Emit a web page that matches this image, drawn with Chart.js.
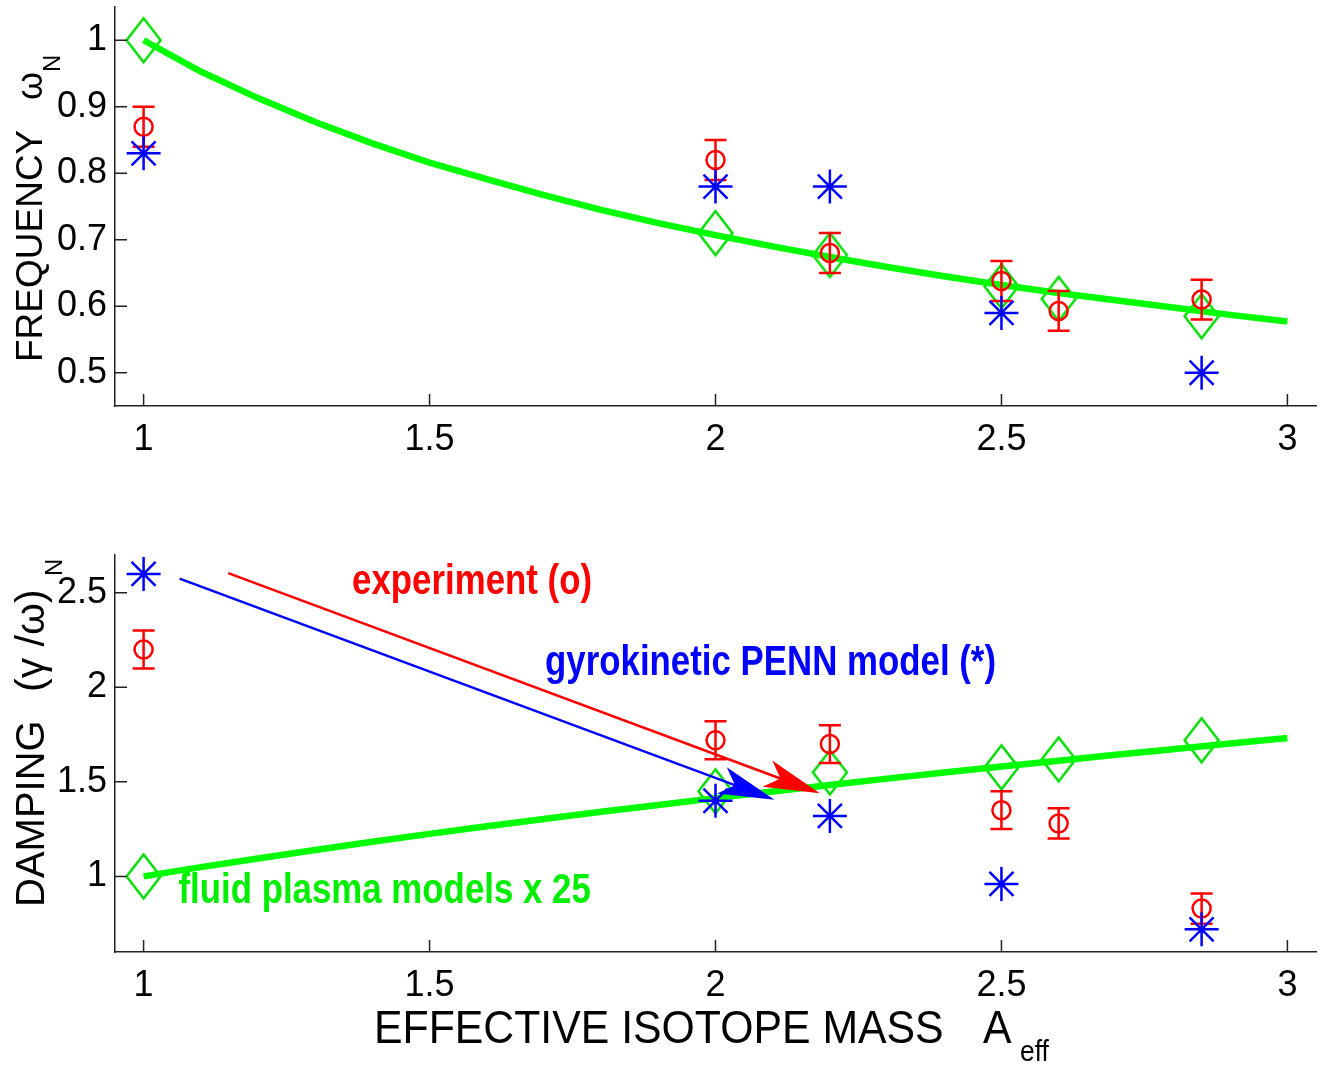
<!DOCTYPE html>
<html lang="en">
<head>
<meta charset="UTF-8">
<title>Frequency and damping vs effective isotope mass</title>
<script src="https://cdn.jsdelivr.net/npm/chart.js@4.4.1/dist/chart.umd.min.js"></script>
<style>
  body { margin: 0; background: #fff; }
  .panel { position: absolute; left: 0; }
  #top { top: 0; }
  #bottom { top: 480px; }
</style>
</head>
<body>
<div class="panel" id="top"><canvas id="freqChart" width="1323" height="480"></canvas></div>
<div class="panel" id="bottom"><canvas id="dampChart" width="1323" height="585"></canvas></div>

<script>
// isotope masses of the points
const masses = [1, 2, 2.2, 2.5, 2.6, 2.85];
const gyroMasses = [1, 2, 2.2, 2.5, 2.85];

// frequency panel (normalised)
const freqExp = [0.87, 0.82, 0.68, 0.638, 0.593, 0.61];
const freqExpErr = [0.03, 0.03, 0.03, 0.03, 0.03, 0.03];
const freqGyro = [0.83, 0.78, 0.78, 0.59, 0.50];
const freqFluid = [1.0, 0.71, 0.677, 0.63, 0.611, 0.585];

// damping panel (normalised)
const dampExp = [2.2, 1.72, 1.70, 1.35, 1.28, 0.83];
const dampExpErr = [0.1, 0.1, 0.1, 0.1, 0.08, 0.08];
const dampGyro = [2.6, 1.40, 1.32, 0.96, 0.72];
const dampFluid = [1.0, 1.45, 1.55, 1.577, 1.619, 1.72];

// fluid model curves
const curveX = [1, 1.1, 1.2, 1.3, 1.4, 1.5, 1.6, 1.7, 1.8, 1.9, 2, 2.1, 2.2, 2.3, 2.4, 2.5, 2.6, 2.7, 2.8, 2.9, 3];
const freqCurve = [1.0, 0.953, 0.913, 0.877, 0.845, 0.816, 0.791, 0.767, 0.745, 0.725, 0.707, 0.690, 0.674, 0.659, 0.645, 0.632, 0.620, 0.609, 0.598, 0.587, 0.577];
const dampCurve = [1.0, 1.049, 1.095, 1.140, 1.183, 1.225, 1.265, 1.304, 1.342, 1.378, 1.414, 1.449, 1.483, 1.517, 1.549, 1.581, 1.612, 1.643, 1.673, 1.703, 1.732];

// ticks
const xTicks = [1, 1.5, 2, 2.5, 3];
const freqTicks = [0.5, 0.6, 0.7, 0.8, 0.9, 1];
const dampTicks = [1, 1.5, 2, 2.5];

// arrows [x0, y0, x1, y1] in data units
const arrowExp = [1.148, 2.604, 2.1825, 1.44];
const arrowGyro = [1.063, 2.575, 2.103, 1.405];

const RED = '#ff0000', BLUE = '#0000ff', GREEN = '#00ff00', DGREEN = '#00dd00';
const FONT = '"Liberation Sans", Arial, Helvetica, sans-serif';

function pts(xs, ys) { return xs.map((x, i) => ({ x: x, y: ys[i] })); }

function diamondMarker(w, h, color, lw) {
  const c = document.createElement('canvas');
  c.width = w + lw * 2; c.height = h + lw * 2;
  const g = c.getContext('2d');
  g.strokeStyle = color; g.lineWidth = lw;
  g.beginPath();
  g.moveTo(c.width / 2, lw);
  g.lineTo(c.width - lw, c.height / 2);
  g.lineTo(c.width / 2, c.height - lw);
  g.lineTo(lw, c.height / 2);
  g.closePath();
  g.stroke();
  return c;
}
const diamond = diamondMarker(34, 44, DGREEN, 2.5);

// error bars for datasets carrying an "errors" array
const errorBars = {
  id: 'errorBars',
  afterDatasetDraw(chart, args) {
    const ds = chart.data.datasets[args.index];
    if (!ds.errors) return;
    const { ctx, scales: { x, y } } = chart;
    ctx.save();
    ctx.strokeStyle = ds.pointBorderColor;
    ctx.lineWidth = 2.5;
    ds.data.forEach((p, i) => {
      const px = x.getPixelForValue(p.x);
      const hi = y.getPixelForValue(p.y + ds.errors[i]);
      const lo = y.getPixelForValue(p.y - ds.errors[i]);
      ctx.beginPath();
      ctx.moveTo(px, hi); ctx.lineTo(px, lo);
      ctx.moveTo(px - 11, hi); ctx.lineTo(px + 11, hi);
      ctx.moveTo(px - 11, lo); ctx.lineTo(px + 11, lo);
      ctx.stroke();
    });
    ctx.restore();
  }
};

// matlab style inward ticks
function inwardTicks(chart) {
  const { ctx, chartArea: a, scales: { x, y } } = chart;
  ctx.save();
  ctx.strokeStyle = '#222';
  ctx.lineWidth = 1.5;
  ctx.beginPath();
  x.ticks.forEach(t => {
    const px = x.getPixelForValue(t.value);
    ctx.moveTo(px, a.bottom); ctx.lineTo(px, a.bottom - 12);
  });
  y.ticks.forEach(t => {
    const py = y.getPixelForValue(t.value);
    ctx.moveTo(a.left, py); ctx.lineTo(a.left + 12, py);
  });
  ctx.stroke();
  ctx.restore();
}

// rotated y title made of pieces (for subscripts)
function verticalTitle(ctx, baseX, parts) {
  ctx.save();
  ctx.fillStyle = '#000';
  ctx.textBaseline = 'alphabetic';
  parts.forEach(p => {
    ctx.save();
    ctx.translate(baseX + (p.dy || 0), p.at);
    ctx.rotate(-Math.PI / 2);
    ctx.font = p.font;
    ctx.fillText(p.text, 0, 0);
    ctx.restore();
  });
  ctx.restore();
}

function narrowText(ctx, text, x, y, font, color, sx) {
  ctx.save();
  ctx.translate(x, y);
  ctx.scale(sx, 1);
  ctx.font = font;
  ctx.fillStyle = color;
  ctx.textBaseline = 'alphabetic';
  ctx.fillText(text, 0, 0);
  ctx.restore();
}

function arrow(chart, a, color) {
  const { ctx, scales: { x, y } } = chart;
  const x0 = x.getPixelForValue(a[0]), y0 = y.getPixelForValue(a[1]);
  const x1 = x.getPixelForValue(a[2]), y1 = y.getPixelForValue(a[3]);
  const ang = Math.atan2(y1 - y0, x1 - x0);
  ctx.save();
  ctx.strokeStyle = color; ctx.fillStyle = color; ctx.lineWidth = 2.5;
  ctx.beginPath();
  ctx.moveTo(x0, y0);
  ctx.lineTo(x1 - 30 * Math.cos(ang), y1 - 30 * Math.sin(ang));
  ctx.stroke();
  ctx.translate(x1, y1);
  ctx.rotate(ang);
  ctx.beginPath();
  ctx.moveTo(0, 0);
  ctx.lineTo(-56, -14);
  ctx.lineTo(-42, 0);
  ctx.lineTo(-56, 14);
  ctx.closePath();
  ctx.fill();
  ctx.restore();
}

function note(chart, text, xv, yv, color) {
  const { ctx, scales: { x, y } } = chart;
  narrowText(ctx, text, x.getPixelForValue(xv), y.getPixelForValue(yv), 'bold 43px ' + FONT, color, 0.81);
}

function baseOptions(yMin, yMax, yTicks, pad, xHeight) {
  return {
    responsive: false,
    animation: false,
    layout: { autoPadding: false, padding: pad },
    plugins: { legend: { display: false }, tooltip: { enabled: false } },
    scales: {
      x: {
        type: 'linear', min: 0.95, max: 3.05,
        afterBuildTicks: s => { s.ticks = xTicks.map(v => ({ value: v })); },
        afterFit: s => { s.height = xHeight; s.paddingLeft = 0; s.paddingRight = 0; },
        grid: { display: false, drawTicks: false },
        border: { display: true, color: '#222', width: 1.5 },
        ticks: { color: '#000', font: { family: FONT, size: 36 }, padding: 12, maxRotation: 0, callback: v => String(v) }
      },
      y: {
        type: 'linear', min: yMin, max: yMax,
        afterBuildTicks: s => { s.ticks = yTicks.map(v => ({ value: v })); },
        afterFit: s => { s.width = 115; s.paddingTop = 0; s.paddingBottom = 0; },
        grid: { display: false, drawTicks: false },
        border: { display: true, color: '#222', width: 1.5 },
        ticks: { color: '#000', font: { family: FONT, size: 36 }, padding: 8, callback: v => String(v) }
      }
    }
  };
}

function panelDatasets(exp, err, gyro, fluid, curve) {
  return [
    { data: pts(gyroMasses, gyro), pointStyle: 'star', pointRadius: 17, pointBorderColor: BLUE, pointBorderWidth: 2.5, clip: false },
    { data: pts(masses, exp), errors: err, pointStyle: 'circle', pointRadius: 9, pointBorderColor: RED, pointBackgroundColor: 'rgba(0,0,0,0)', pointBorderWidth: 2.5, clip: false },
    { data: pts(curveX, curve), showLine: true, borderColor: GREEN, borderWidth: 6.5, pointRadius: 0, tension: 0, clip: false },
    { data: pts(masses, fluid), pointStyle: diamond, pointRadius: 20, clip: false }
  ];
}

// top: frequency
new Chart('freqChart', {
  type: 'scatter',
  data: { datasets: panelDatasets(freqExp, freqExpErr, freqGyro, freqFluid, freqCurve) },
  options: baseOptions(0.45, 1.05, freqTicks, { left: 0, right: 7, top: 7, bottom: 0 }, 74),
  plugins: [errorBars, {
    id: 'freqDecor',
    afterDraw(chart) {
      inwardTicks(chart);
      verticalTitle(chart.ctx, 42, [
        { text: 'FREQUENCY', at: 362, font: '37px ' + FONT },
        { text: 'ω', at: 100, font: '36px ' + FONT },
        { text: 'N', at: 72, dy: 18, font: '24px ' + FONT }
      ]);
    }
  }]
});

// bottom: damping
new Chart('dampChart', {
  type: 'scatter',
  data: { datasets: panelDatasets(dampExp, dampExpErr, dampGyro, dampFluid, dampCurve) },
  options: baseOptions(0.6, 2.7, dampTicks, { left: 0, right: 7, top: 75, bottom: 0 }, 113),
  plugins: [errorBars, {
    id: 'dampDecor',
    afterDatasetsDraw(chart) {
      arrow(chart, arrowGyro, BLUE);
      arrow(chart, arrowExp, RED);
      note(chart, 'experiment (o)', 1.3645, 2.495, RED);
      note(chart, 'gyrokinetic PENN model (*)', 1.702, 2.063, BLUE);
      note(chart, 'fluid plasma models x 25', 1.061, 0.858, '#00ee00');
    },
    afterDraw(chart) {
      const ctx = chart.ctx;
      inwardTicks(chart);
      verticalTitle(ctx, 44, [
        { text: 'DAMPING', at: 427, font: '40px ' + FONT },
        { text: '(γ /ω)', at: 212, font: '41px ' + FONT },
        { text: 'N', at: 96, dy: 18, font: '24px ' + FONT }
      ]);
      narrowText(ctx, 'EFFECTIVE ISOTOPE MASS', 374, 563, '47px ' + FONT, '#000', 0.91);
      narrowText(ctx, 'A', 983, 563, '47px ' + FONT, '#000', 0.91);
      narrowText(ctx, 'eff', 1020, 581, '30px ' + FONT, '#000', 0.88);
    }
  }]
});
</script>
</body>
</html>
